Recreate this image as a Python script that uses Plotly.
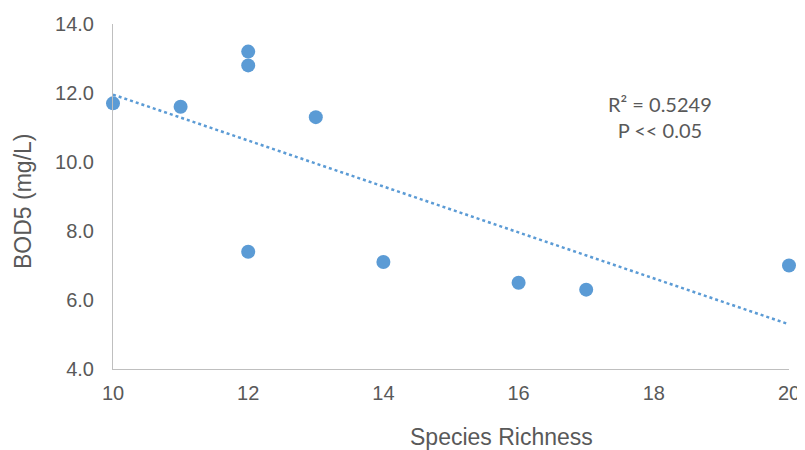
import numpy as np
import plotly.graph_objects as go

species_richness = [10, 11, 12, 12, 12, 13, 14, 16, 17, 20]
bod5 = [11.7, 11.6, 13.2, 12.8, 7.4, 11.3, 7.1, 6.5, 6.3, 7.0]
x_ticks = [10, 12, 14, 16, 18, 20]
y_ticks = [4, 6, 8, 10, 12, 14]

slope, intercept = np.polyfit(species_richness, bod5, 1)
trend_x = [min(species_richness), max(species_richness)]
trend_y = [slope * v + intercept for v in trend_x]

FONT = "Liberation Sans, Arial, sans-serif"
BLUE = "#5B9BD5"
GREY = "#595959"

# plot area in figure pixels (page is offset by the 8px body margin)
L, R, T, B = 105, 16, 16, 81
W, H = 797, 442
PW, PH = W - L - R, H - T - B

fig = go.Figure()
fig.add_trace(go.Scatter(x=trend_x, y=trend_y, mode="lines",
                         line=dict(color=BLUE, width=2.5, dash="dot"),
                         cliponaxis=False, showlegend=False))
fig.add_trace(go.Scatter(x=species_richness, y=bod5, mode="markers",
                         marker=dict(color=BLUE, size=14),
                         cliponaxis=False, showlegend=False))

fig.update_layout(
    width=W, height=H, autosize=False,
    margin=dict(l=L, r=R, t=T, b=B, pad=0, autoexpand=False),
    paper_bgcolor="white", plot_bgcolor="white",
    font=dict(family=FONT, color=GREY, size=19),
    xaxis=dict(range=[10, 20], tickvals=x_ticks, showgrid=False, zeroline=False,
               showline=True, linecolor="#BFBFBF", linewidth=1, ticks="",
               automargin=False, ticklabelstandoff=6, tickfont=dict(size=20, color=GREY)),
    yaxis=dict(range=[4, 14], tickvals=y_ticks, tickformat=".1f", showgrid=False,
               zeroline=False, showline=True, linecolor="#BFBFBF", linewidth=1,
               automargin=False, ticks="", ticklabelstandoff=14,
               tickfont=dict(size=20, color=GREY)),
    annotations=[
        dict(text="Species Richness", xref="paper", yref="paper", x=(493 - L) / PW,
             y=-(429 - (T + PH)) / PH, xanchor="center", yanchor="middle", showarrow=False,
             font=dict(size=23, color=GREY)),
        dict(text="BOD5 (mg/L)", xref="paper", yref="paper", x=(15 - L) / PW,
             y=((T + PH) - 193) / PH, xanchor="center", yanchor="middle", showarrow=False,
             textangle=-90, font=dict(size=23, color=GREY)),
        dict(text="R² = 0.5249<br>P << 0.05", xref="paper", yref="paper",
             x=(652 - L) / PW, y=((T + PH) - 109) / PH, xanchor="center", yanchor="middle",
             showarrow=False, align="center",
             font=dict(family="Lato, Open Sans, sans-serif", size=20, color=GREY)),
    ],
)

fig.write_html("out.html")
